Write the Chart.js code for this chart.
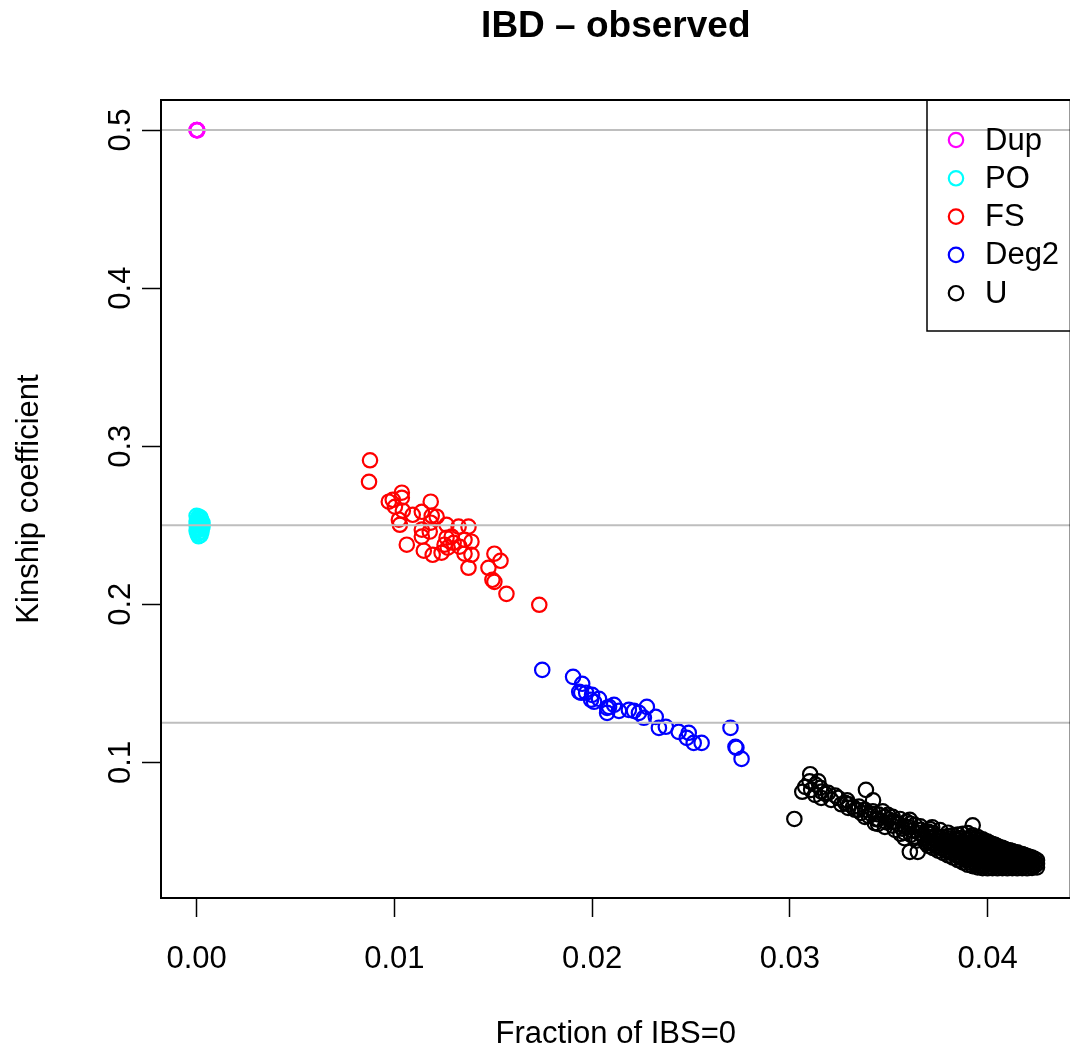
<!DOCTYPE html>
<html>
<head>
<meta charset="utf-8">
<title>IBD - observed</title>
<script src="https://cdn.jsdelivr.net/npm/chart.js@4.4.1/dist/chart.umd.min.js"></script>
<style>
  html, body { margin: 0; padding: 0; overflow: hidden; background: #fff; }
  #wrap { width: 1080px; height: 1053px; }
</style>
</head>
<body>
<div id="wrap"><canvas id="ibdChart" width="1080" height="1053"></canvas></div>
<script>
// Chart data
const FONT = '"Liberation Sans", Arial, Helvetica, sans-serif';

const groupLabels = ['Dup', 'PO', 'FS', 'Deg2', 'U'];
const groupColors = ['#FF00FF', '#00FFFF', '#FF0000', '#0000FF', '#000000'];
const xTicks = [0, 0.01, 0.02, 0.03, 0.04];
const yTicks = [0.1, 0.2, 0.3, 0.4, 0.5];
const refLines = [0.5, 0.25, 0.125];

const dupPoints = [[0, 0.5], [0.00002, 0.5], [0.00004, 0.4998], [0, 0.4999], [0.00003, 0.5]];

const poPoints = [
  [0.00000, 0.2560], [0.00010, 0.2555], [0.00020, 0.2548], [0.00005, 0.2540], [0.00015, 0.2535],
  [0.00025, 0.2530], [0.00000, 0.2525], [0.00010, 0.2520], [0.00030, 0.2515], [0.00005, 0.2510],
  [0.00020, 0.2505], [0.00000, 0.2500], [0.00015, 0.2495], [0.00030, 0.2490], [0.00005, 0.2485],
  [0.00020, 0.2478], [0.00010, 0.2470], [0.00000, 0.2465], [0.00025, 0.2460], [0.00015, 0.2452],
  [0.00005, 0.2445], [0.00020, 0.2438], [0.00010, 0.2430]
];

const fsPoints = [
  [0.00877, 0.2911], [0.00872, 0.2775], [0.00972, 0.2649], [0.01038, 0.2706], [0.01038, 0.2674],
  [0.01003, 0.2617], [0.01043, 0.2592], [0.01184, 0.2649], [0.01093, 0.2566], [0.01139, 0.2585],
  [0.01189, 0.2560], [0.01023, 0.2535], [0.01028, 0.2503], [0.01184, 0.2516], [0.01139, 0.2472],
  [0.01179, 0.2460], [0.01139, 0.2428], [0.01063, 0.2377], [0.01264, 0.2503], [0.01325, 0.2491],
  [0.01375, 0.2491], [0.01264, 0.2421], [0.01254, 0.2377], [0.01270, 0.2358], [0.01239, 0.2326],
  [0.01149, 0.2339], [0.01194, 0.2313], [0.01355, 0.2408], [0.01390, 0.2396], [0.01355, 0.2320],
  [0.01390, 0.2313], [0.01375, 0.2231], [0.01506, 0.2320], [0.01537, 0.2275], [0.01476, 0.2231],
  [0.01496, 0.2155], [0.01506, 0.2142], [0.01567, 0.2066], [0.01733, 0.1997], [0.01290, 0.2428],
  [0.01330, 0.2364], [0.01300, 0.2389], [0.01214, 0.2554], [0.00992, 0.2661]
];

const deg2Points = [
  [0.01748, 0.1585], [0.01904, 0.1541], [0.01950, 0.1497], [0.01945, 0.1440], [0.01970, 0.1440],
  [0.02000, 0.1427], [0.01995, 0.1396], [0.02035, 0.1402], [0.02010, 0.1383], [0.02086, 0.1351],
  [0.02111, 0.1364], [0.02076, 0.1313], [0.02186, 0.1332], [0.02212, 0.1326], [0.02237, 0.1313],
  [0.02277, 0.1351], [0.02262, 0.1282], [0.02322, 0.1288], [0.02338, 0.1218], [0.02373, 0.1225],
  [0.02438, 0.1193], [0.02489, 0.1187], [0.02479, 0.1155], [0.02514, 0.1123], [0.02554, 0.1123],
  [0.02700, 0.1218], [0.02725, 0.1098], [0.02730, 0.1092], [0.02756, 0.1022], [0.01935, 0.1446],
  [0.02076, 0.1345], [0.02136, 0.1326]
];

// unrelated pairs: the sparse upper-left part of the cloud
const uBandPoints = [
  [0.03023, 0.0642], [0.03103, 0.0925], [0.03144, 0.0880], [0.03078, 0.0845], [0.03063, 0.0814],
  [0.03108, 0.0826], [0.03128, 0.0794], [0.03154, 0.0839], [0.03159, 0.0775], [0.03194, 0.0807],
  [0.03209, 0.0763], [0.03244, 0.0775], [0.03280, 0.0744], [0.03295, 0.0712], [0.03320, 0.0718],
  [0.03345, 0.0699], [0.03385, 0.0826], [0.03421, 0.0760], [0.03380, 0.0655], [0.03411, 0.0674],
  [0.03446, 0.0642], [0.03446, 0.0611], [0.03496, 0.0668], [0.03481, 0.0592], [0.03521, 0.0623],
  [0.03557, 0.0642], [0.03607, 0.0636], [0.03532, 0.0573], [0.03582, 0.0592], [0.03632, 0.0605],
  [0.03612, 0.0541], [0.03662, 0.0573], [0.03607, 0.0434], [0.03647, 0.0434], [0.03683, 0.0522],
  [0.0330, 0.0735], [0.0335, 0.0720], [0.0338, 0.0700], [0.0342, 0.0690], [0.0345, 0.0670],
  [0.0348, 0.0655], [0.0350, 0.0640], [0.0352, 0.0600], [0.0355, 0.0610], [0.0357, 0.0580],
  [0.0360, 0.0590], [0.0362, 0.0570], [0.0365, 0.0555], [0.0367, 0.0540], [0.0369, 0.0560],
  [0.0340, 0.0660], [0.0336, 0.0680], [0.0344, 0.0640], [0.0349, 0.0620], [0.0353, 0.0625],
  [0.0358, 0.0555], [0.0363, 0.0530], [0.0368, 0.0520], [0.0333, 0.0700], [0.0326, 0.0735],
  [0.0329, 0.0760], [0.0323, 0.0790], [0.0318, 0.0800], [0.0313, 0.0860], [0.0310, 0.0880],
  [0.0316, 0.0815], [0.0356, 0.0548], [0.0361, 0.0612], [0.0347, 0.0690], [0.0366, 0.0595],
  [0.0371, 0.0578], [0.0359, 0.0625], [0.0352, 0.0655], [0.0343, 0.0615], [0.0372, 0.0590],
  [0.0376, 0.0572], [0.0364, 0.0505], [0.0369, 0.0488], [0.0358, 0.0520], [0.0380, 0.0555]
];

// unrelated pairs: the dense lower-right part of the cloud
const uDensePoints = [
  [0.03700, 0.0472], [0.03700, 0.0503], [0.03700, 0.0531], [0.03700, 0.0562],
  [0.03712, 0.0488], [0.03712, 0.0519], [0.03712, 0.0548],
  [0.03725, 0.0458], [0.03725, 0.0490], [0.03725, 0.0522], [0.03725, 0.0553],
  [0.03738, 0.0470], [0.03738, 0.0505], [0.03738, 0.0537],
  [0.03750, 0.0442], [0.03750, 0.0473], [0.03750, 0.0500], [0.03750, 0.0528],
  [0.03762, 0.0458], [0.03762, 0.0488], [0.03762, 0.0522],
  [0.03775, 0.0427], [0.03775, 0.0456], [0.03775, 0.0486], [0.03775, 0.0526],
  [0.03788, 0.0440], [0.03788, 0.0472], [0.03788, 0.0503],
  [0.03800, 0.0412], [0.03800, 0.0443], [0.03800, 0.0474], [0.03800, 0.0505], [0.03800, 0.0534],
  [0.03812, 0.0428], [0.03812, 0.0459], [0.03812, 0.0490], [0.03812, 0.0518],
  [0.03825, 0.0398], [0.03825, 0.0428], [0.03825, 0.0460], [0.03825, 0.0493], [0.03825, 0.0538],
  [0.03838, 0.0413], [0.03838, 0.0445], [0.03838, 0.0477], [0.03838, 0.0510],
  [0.03850, 0.0382], [0.03850, 0.0413], [0.03850, 0.0446], [0.03850, 0.0478], [0.03850, 0.0507], [0.03850, 0.0544],
  [0.03862, 0.0396], [0.03862, 0.0430], [0.03862, 0.0462], [0.03862, 0.0494], [0.03862, 0.0521],
  [0.03875, 0.0367], [0.03875, 0.0398], [0.03875, 0.0430], [0.03875, 0.0462], [0.03875, 0.0495], [0.03875, 0.0548],
  [0.03888, 0.0382], [0.03888, 0.0414], [0.03888, 0.0447], [0.03888, 0.0480], [0.03888, 0.0512],
  [0.03900, 0.0352], [0.03900, 0.0384], [0.03900, 0.0415], [0.03900, 0.0447], [0.03900, 0.0479], [0.03900, 0.0510], [0.03900, 0.0553],
  [0.03912, 0.0366], [0.03912, 0.0399], [0.03912, 0.0431], [0.03912, 0.0463], [0.03912, 0.0495], [0.03912, 0.0527],
  [0.03925, 0.0343], [0.03925, 0.0372], [0.03925, 0.0404], [0.03925, 0.0436], [0.03925, 0.0468], [0.03925, 0.0500], [0.03925, 0.0538], [0.03925, 0.0602],
  [0.03938, 0.0357], [0.03938, 0.0389], [0.03938, 0.0420], [0.03938, 0.0452], [0.03938, 0.0484], [0.03938, 0.0516],
  [0.03950, 0.0336], [0.03950, 0.0365], [0.03950, 0.0397], [0.03950, 0.0428], [0.03950, 0.0460], [0.03950, 0.0492], [0.03950, 0.0528],
  [0.03962, 0.0350], [0.03962, 0.0381], [0.03962, 0.0413], [0.03962, 0.0445], [0.03962, 0.0476], [0.03962, 0.0509],
  [0.03975, 0.0331], [0.03975, 0.0360], [0.03975, 0.0391], [0.03975, 0.0422], [0.03975, 0.0454], [0.03975, 0.0486], [0.03975, 0.0514],
  [0.03988, 0.0345], [0.03988, 0.0376], [0.03988, 0.0407], [0.03988, 0.0438], [0.03988, 0.0470], [0.03988, 0.0500],
  [0.04000, 0.0330], [0.04000, 0.0358], [0.04000, 0.0390], [0.04000, 0.0421], [0.04000, 0.0452], [0.04000, 0.0484], [0.04000, 0.0499],
  [0.04012, 0.0342], [0.04012, 0.0373], [0.04012, 0.0405], [0.04012, 0.0436], [0.04012, 0.0468], [0.04012, 0.0490],
  [0.04025, 0.0331], [0.04025, 0.0358], [0.04025, 0.0389], [0.04025, 0.0420], [0.04025, 0.0451], [0.04025, 0.0484],
  [0.04038, 0.0344], [0.04038, 0.0374], [0.04038, 0.0405], [0.04038, 0.0436], [0.04038, 0.0466], [0.04038, 0.0478],
  [0.04050, 0.0330], [0.04050, 0.0357], [0.04050, 0.0388], [0.04050, 0.0419], [0.04050, 0.0450], [0.04050, 0.0470],
  [0.04062, 0.0343], [0.04062, 0.0373], [0.04062, 0.0404], [0.04062, 0.0434], [0.04062, 0.0462],
  [0.04075, 0.0331], [0.04075, 0.0357], [0.04075, 0.0388], [0.04075, 0.0418], [0.04075, 0.0447], [0.04075, 0.0460],
  [0.04088, 0.0344], [0.04088, 0.0372], [0.04088, 0.0402], [0.04088, 0.0432], [0.04088, 0.0452],
  [0.04100, 0.0330], [0.04100, 0.0358], [0.04100, 0.0387], [0.04100, 0.0417], [0.04100, 0.0446],
  [0.04112, 0.0343], [0.04112, 0.0372], [0.04112, 0.0401], [0.04112, 0.0430], [0.04112, 0.0443],
  [0.04125, 0.0331], [0.04125, 0.0357], [0.04125, 0.0386], [0.04125, 0.0415], [0.04125, 0.0439],
  [0.04138, 0.0344], [0.04138, 0.0371], [0.04138, 0.0400], [0.04138, 0.0428],
  [0.04150, 0.0330], [0.04150, 0.0356], [0.04150, 0.0385], [0.04150, 0.0413], [0.04150, 0.0431],
  [0.04162, 0.0343], [0.04162, 0.0370], [0.04162, 0.0398], [0.04162, 0.0422],
  [0.04175, 0.0331], [0.04175, 0.0357], [0.04175, 0.0384], [0.04175, 0.0410], [0.04175, 0.0420],
  [0.04188, 0.0344], [0.04188, 0.0370], [0.04188, 0.0396], [0.04188, 0.0414],
  [0.04200, 0.0330], [0.04200, 0.0356], [0.04200, 0.0382], [0.04200, 0.0408],
  [0.04212, 0.0343], [0.04212, 0.0369], [0.04212, 0.0394], [0.04212, 0.0403],
  [0.04225, 0.0332], [0.04225, 0.0356], [0.04225, 0.0380], [0.04225, 0.0398],
  [0.04238, 0.0345], [0.04238, 0.0368], [0.04238, 0.0390],
  [0.04250, 0.0336], [0.04250, 0.0358], [0.04250, 0.0381]
];

const groupPoints = [dupPoints, poPoints, fsPoints, deg2Points, uBandPoints.concat(uDensePoints)];

function toXY(pairs) {
  return pairs.map(p => ({ x: p[0], y: p[1] }));
}

function createDataset(i) {
  return {
    label: groupLabels[i],
    data: toXY(groupPoints[i]),
    borderColor: groupColors[i],
    backgroundColor: 'rgba(0,0,0,0)',
    pointStyle: 'circle',
    pointRadius: 7.2,
    pointHoverRadius: 7.2,
    pointBorderWidth: 2.2,
    showLine: false
  };
}

// extra drawing: box, reference lines, rotated y labels, title, legend
const rDecor = {
  id: 'rDecor',
  afterDatasetsDraw(chart) {
    const ctx = chart.ctx;
    const area = chart.chartArea;
    const yScale = chart.scales.y;

    ctx.save();
    ctx.strokeStyle = '#BEBEBE';
    ctx.lineWidth = 2;
    refLines.forEach(v => {
      const py = yScale.getPixelForValue(v);
      ctx.beginPath();
      ctx.moveTo(area.left, py);
      ctx.lineTo(area.right, py);
      ctx.stroke();
    });
    ctx.restore();
  },
  afterDraw(chart) {
    const ctx = chart.ctx;
    const area = chart.chartArea;
    const yScale = chart.scales.y;

    ctx.save();
    ctx.strokeStyle = '#000';
    ctx.lineWidth = 2;
    ctx.strokeRect(area.left, area.top, area.right - area.left, area.bottom - area.top);

    // y tick labels, rotated like R's default
    ctx.fillStyle = '#000';
    ctx.font = '31px ' + FONT;
    ctx.textAlign = 'center';
    ctx.textBaseline = 'middle';
    yScale.ticks.forEach(t => {
      ctx.save();
      ctx.translate(121, yScale.getPixelForValue(t.value));
      ctx.rotate(-Math.PI / 2);
      ctx.fillText(String(t.value), 0, 0);
      ctx.restore();
    });

    // title
    ctx.font = 'bold 37px ' + FONT;
    ctx.textBaseline = 'alphabetic';
    ctx.fillText('IBD \u2013 observed', (area.left + area.right) / 2, 37);

    // legend
    const lx = 927, ly = area.top, rowH = 38.3;
    ctx.lineWidth = 1.5;
    ctx.strokeRect(lx, ly, 200, 231);
    ctx.font = '31px ' + FONT;
    ctx.textAlign = 'left';
    ctx.textBaseline = 'middle';
    chart.data.datasets.forEach((ds, i) => {
      const cy = 140 + i * rowH;
      ctx.beginPath();
      ctx.strokeStyle = ds.borderColor;
      ctx.lineWidth = 2.2;
      ctx.arc(956, cy, 7.2, 0, Math.PI * 2);
      ctx.stroke();
      ctx.fillStyle = '#000';
      ctx.fillText(ds.label, 985, cy + 1);
    });
    ctx.restore();
  }
};

const ctx = document.getElementById('ibdChart').getContext('2d');
window.ibdChart = new Chart(ctx, {
  type: 'scatter',
  data: {
    datasets: groupLabels.map((_, i) => createDataset(i))
  },
  options: {
    responsive: false,
    animation: false,
    devicePixelRatio: 1,
    events: [],
    layout: { padding: { top: 100, right: 7, left: 0, bottom: 0 } },
    plugins: {
      legend: { display: false },
      tooltip: { enabled: false },
      title: { display: false }
    },
    scales: {
      x: {
        type: 'linear',
        position: 'bottom',
        min: -0.0018,
        max: 0.0442,
        afterBuildTicks: s => { s.ticks = xTicks.map(v => ({ value: v })); },
        afterFit: s => { s.height = 155; },
        border: { display: false },
        grid: {
          drawOnChartArea: false,
          drawTicks: true,
          tickLength: 19,
          tickColor: '#000',
          tickWidth: 1.5
        },
        ticks: {
          color: '#000',
          font: { family: FONT, size: 31 },
          padding: 24,
          maxRotation: 0,
          autoSkip: false,
          callback: v => Number(v).toFixed(2)
        },
        title: {
          display: true,
          text: 'Fraction of IBS=0',
          color: '#000',
          font: { family: FONT, size: 31 },
          padding: { top: 0, bottom: 0 }
        }
      },
      y: {
        type: 'linear',
        position: 'left',
        min: 0.0142,
        max: 0.519,
        afterBuildTicks: s => { s.ticks = yTicks.map(v => ({ value: v })); },
        afterFit: s => { s.width = 161; },
        border: { display: false },
        grid: {
          drawOnChartArea: false,
          drawTicks: true,
          tickLength: 19,
          tickColor: '#000',
          tickWidth: 1.5
        },
        ticks: { display: false },
        title: {
          display: true,
          text: 'Kinship coefficient',
          color: '#000',
          font: { family: FONT, size: 31 },
          padding: { top: 11, bottom: 0 }
        }
      }
    }
  },
  plugins: [rDecor]
});
</script>
</body>
</html>
